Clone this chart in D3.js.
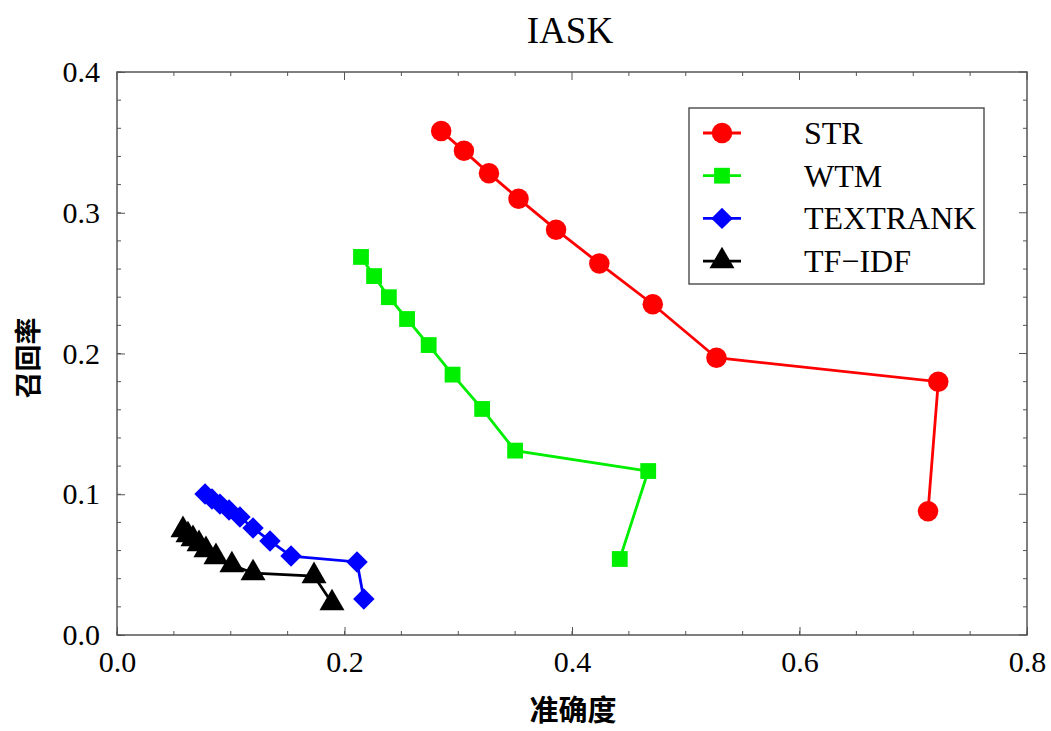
<!DOCTYPE html>
<html><head><meta charset="utf-8">
<script src="https://cdn.jsdelivr.net/npm/d3@7"></script>
<style>body{margin:0;background:#fff}</style></head>
<body><svg id="c" width="1051" height="731"></svg>
<script>
const seriesNames = ["STR","WTM","TEXTRANK","TF\u2212IDF"];
const strX = [0.285,0.305,0.327,0.353,0.386,0.424,0.471,0.527,0.722,0.713];
const strY = [0.358,0.344,0.328,0.310,0.288,0.264,0.235,0.197,0.180,0.088];
const wtmX = [0.2145,0.226,0.239,0.255,0.274,0.295,0.321,0.350,0.467,0.442];
const wtmY = [0.2686,0.255,0.240,0.2245,0.206,0.185,0.1606,0.131,0.1165,0.054];
const trX = [0.0774,0.0835,0.0905,0.0985,0.1081,0.1196,0.1345,0.153,0.211,0.217];
const trY = [0.1002,0.0966,0.093,0.0888,0.0838,0.076,0.0668,0.0561,0.0519,0.0256];
const tfX = [0.058,0.0624,0.0668,0.0721,0.0782,0.087,0.101,0.1196,0.1732,0.189];
const tfY = [0.0746,0.071,0.0682,0.0647,0.0604,0.0554,0.0497,0.044,0.0419,0.0227];
const xTicks = [0.0,0.2,0.4,0.6,0.8];
const yTicks = [0.0,0.1,0.2,0.3,0.4];
const colors = ["#ff0000","#00ee00","#0000ff","#000000"];
const symbols = [d3.symbolCircle,d3.symbolSquare,d3.symbolSquare,d3.symbolTriangle];
const symSizes = [330,250,230,270];
const symRot = [0,0,45,0];

const svg = d3.select("#c");
const L=117,R=1027,T=72,B=635;
const x = d3.scaleLinear().domain([0,0.8]).range([L,R]);
const y = d3.scaleLinear().domain([0,0.4]).range([B,T]);
const frame="#555";
const serif="'Liberation Serif','Times New Roman',serif";
const cjk="'Noto Sans CJK SC',sans-serif";

svg.append("rect").attr("x",L).attr("y",T).attr("width",R-L).attr("height",B-T)
  .attr("fill","none").attr("stroke",frame).attr("stroke-width",1.5);

const xMinor = d3.range(0,0.8001,0.05);
const yMinor = d3.range(0,0.4001,0.02);
const gx = svg.append("g").attr("transform",`translate(0,${B})`)
  .call(d3.axisBottom(x).tickValues(xTicks).tickFormat(d3.format(".1f")).tickSize(-8).tickPadding(16));
const gy = svg.append("g").attr("transform",`translate(${L},0)`)
  .call(d3.axisLeft(y).tickValues(yTicks).tickFormat(d3.format(".1f")).tickSize(-8).tickPadding(17));
[gx,gy].forEach(g=>{
  g.select(".domain").remove();
  g.selectAll("line").attr("stroke",frame);
  g.selectAll("text").attr("font-family",serif).attr("font-size",30).attr("fill","#000");
});
xMinor.forEach(v=>{
  const len = (Math.round(v*100)%20===0)?8:4;
  svg.append("line").attr("x1",x(v)).attr("x2",x(v)).attr("y1",B).attr("y2",B-4).attr("stroke",frame);
  svg.append("line").attr("x1",x(v)).attr("x2",x(v)).attr("y1",T).attr("y2",T+len).attr("stroke",frame);
});
yMinor.forEach(v=>{
  const len = (Math.round(v*100)%10===0)?8:4;
  svg.append("line").attr("x1",L).attr("x2",L+4).attr("y1",y(v)).attr("y2",y(v)).attr("stroke",frame);
  svg.append("line").attr("x1",R).attr("x2",R-len).attr("y1",y(v)).attr("y2",y(v)).attr("stroke",frame);
});

svg.append("text").attr("x",570).attr("y",43).attr("text-anchor","middle")
  .attr("font-family",serif).attr("font-size",37).text("IASK");
svg.append("text").attr("x",573).attr("y",721).attr("text-anchor","middle")
  .attr("font-family",cjk).attr("font-weight","bold").attr("font-size",29).text("准确度");
svg.append("text").attr("transform","translate(38,358) rotate(-90)").attr("text-anchor","middle")
  .attr("font-family",cjk).attr("font-weight","bold").attr("font-size",27).text("召回率");

const data = [[strX,strY],[wtmX,wtmY],[trX,trY],[tfX,tfY]];
const line = d3.line().x(d=>x(d[0])).y(d=>y(d[1]));
data.forEach((s,i)=>{
  const pts = s[0].map((v,j)=>[v,s[1][j]]);
  svg.append("path").datum(pts).attr("d",line).attr("fill","none")
    .attr("stroke",colors[i]).attr("stroke-width",2.8);
  svg.selectAll(null).data(pts).enter().append("path")
    .attr("transform",d=>`translate(${x(d[0])},${y(d[1])}) rotate(${symRot[i]})`)
    .attr("d",d3.symbol().type(symbols[i]).size(symSizes[i]))
    .attr("fill",colors[i]);
});

const lg = svg.append("g");
lg.append("rect").attr("x",689).attr("y",108).attr("width",295).attr("height",176)
  .attr("fill","#fff").attr("stroke",frame).attr("stroke-width",1.5);
seriesNames.forEach((n,i)=>{
  const yy = 133 + i*42.7;
  lg.append("line").attr("x1",703).attr("x2",741).attr("y1",yy).attr("y2",yy)
    .attr("stroke",colors[i]).attr("stroke-width",2.8);
  lg.append("path").attr("transform",`translate(722,${yy}) rotate(${symRot[i]})`)
    .attr("d",d3.symbol().type(symbols[i]).size(symSizes[i])).attr("fill",colors[i]);
  lg.append("text").attr("x",804).attr("y",yy+11).attr("font-family",serif)
    .attr("font-size",32).text(n);
});
</script></body></html>
